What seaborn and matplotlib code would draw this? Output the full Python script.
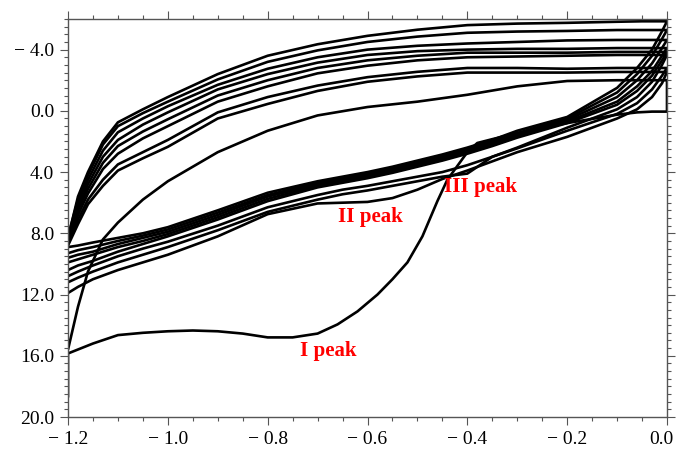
import numpy as np
import pandas as pd
import matplotlib
matplotlib.use("Agg")
import matplotlib.pyplot as plt
import seaborn as sns
from matplotlib.ticker import MultipleLocator, FixedLocator, FuncFormatter
from matplotlib.transforms import ScaledTranslation

# ---------------- data ----------------
# first forward scan (I peak)
x_f1 = [-1.2, -1.2, -1.15, -1.1, -1.05, -1.0, -0.95, -0.9, -0.85, -0.8, -0.75,
        -0.7, -0.66, -0.62, -0.58, -0.55, -0.52, -0.49, -0.46, -0.44, -0.42,
        -0.40, -0.38, -0.35, -0.3, -0.2, -0.1, -0.06, -0.03, 0.0]
y_f1 = [18.7, 15.85, 15.2, 14.65, 14.5, 14.4, 14.35, 14.4, 14.55, 14.8, 14.8,
        14.55, 13.95, 13.1, 12.0, 11.0, 9.9, 8.2, 5.9, 4.5, 3.6,
        2.7, 2.1, 1.85, 1.45, 0.8, 0.25, 0.1, 0.05, 0.05]

# reverse-scan potentials and first reverse scan
x_rev = [0.0, -0.02, -0.05, -0.1, -0.2, -0.3, -0.4, -0.5, -0.6, -0.7, -0.8,
         -0.9, -1.0, -1.05, -1.1, -1.13, -1.16, -1.18, -1.2]
y_r1 = [-2.0, -2.0, -2.0, -2.0, -1.95, -1.6, -1.05, -0.6, -0.25, 0.3, 1.3,
        2.7, 4.6, 5.8, 7.3, 8.4, 10.5, 12.8, 15.6]

# later forward scans
x_fwd = [-1.2, -1.18, -1.15, -1.1, -1.05, -1.0, -0.9, -0.8, -0.7, -0.65, -0.6,
         -0.55, -0.5, -0.45, -0.4, -0.35, -0.3, -0.2, -0.1, -0.06, -0.03, -0.01, 0.0]
y_f2 = [11.9, 11.5, 11.0, 10.4, 9.9, 9.4, 8.2, 6.75, 6.05, 6.0, 5.95,
        5.7, 5.15, 4.45, 3.9, 3.3, 2.7, 1.7, 0.5, -0.1, -0.9, -1.8, -2.54]
y_f3 = [11.2, 10.9, 10.5, 9.9, 9.4, 8.9, 7.8, 6.6, 5.8, 5.45, 5.2,
        4.9, 4.6, 4.3, 4.1, 3.0, 2.45, 1.3, 0.2, -0.5, -1.4, -2.3, -2.8]
y_f4 = [10.8, 10.5, 10.1, 9.5, 9.0, 8.55, 7.5, 6.3, 5.5, 5.15, 4.9,
        4.6, 4.3, 4.0, 3.55, 3.0, 2.4, 1.1, -0.1, -0.9, -1.9, -3.0, -3.65]
y_f5 = [10.4, 10.1, 9.8, 9.2, 8.7, 8.2, 7.1, 5.9, 5.0, 4.7, 4.4,
        4.05, 3.65, 3.25, 2.8, 2.3, 1.75, 0.8, -0.4, -1.3, -2.3, -3.3, -3.85]
y_f6 = [9.9, 9.7, 9.4, 8.9, 8.5, 8.05, 6.95, 5.75, 4.9, 4.6, 4.3,
        3.95, 3.55, 3.15, 2.7, 2.2, 1.65, 0.7, -0.6, -1.6, -2.6, -3.6, -4.1]
y_f7 = [9.6, 9.4, 9.2, 8.7, 8.3, 7.9, 6.8, 5.6, 4.8, 4.5, 4.2,
        3.85, 3.45, 3.05, 2.6, 2.1, 1.55, 0.6, -0.9, -2.0, -3.1, -4.1, -4.63]
y_f8 = [9.3, 9.1, 8.9, 8.5, 8.15, 7.75, 6.65, 5.5, 4.7, 4.4, 4.1,
        3.75, 3.35, 2.95, 2.5, 2.0, 1.45, 0.5, -1.2, -2.4, -3.6, -4.7, -5.28]
y_f9 = [8.9, 8.8, 8.6, 8.3, 8.0, 7.6, 6.5, 5.35, 4.6, 4.3, 4.0,
        3.65, 3.25, 2.85, 2.4, 1.9, 1.3, 0.4, -1.5, -2.8, -4.0, -5.2, -5.85]

# later reverse scans
y_r2 = [-2.54, -2.54, -2.54, -2.54, -2.5, -2.5, -2.5, -2.25, -1.9, -1.3, -0.45,
        0.5, 2.35, 3.1, 3.9, 4.9, 6.1, 7.4, 8.8]
y_r3 = [-2.8, -2.8, -2.8, -2.8, -2.75, -2.8, -2.8, -2.55, -2.2, -1.65, -0.9,
        0.1, 1.9, 2.7, 3.5, 4.5, 5.8, 7.1, 8.7]
y_r4 = [-3.65, -3.65, -3.65, -3.65, -3.6, -3.55, -3.5, -3.3, -2.95, -2.45, -1.6,
        -0.6, 1.0, 1.8, 2.8, 3.8, 5.4, 6.8, 8.6]
y_r5 = [-3.85, -3.85, -3.85, -3.85, -3.8, -3.8, -3.8, -3.6, -3.3, -2.8, -2.0,
        -1.0, 0.55, 1.35, 2.3, 3.4, 5.1, 6.5, 8.4]
y_r6 = [-4.1, -4.1, -4.1, -4.1, -4.05, -4.05, -4.0, -3.9, -3.65, -3.15, -2.4,
        -1.4, 0.1, 0.9, 1.9, 3.0, 4.8, 6.3, 8.5]
y_r7 = [-4.63, -4.63, -4.63, -4.63, -4.6, -4.5, -4.4, -4.25, -4.0, -3.5, -2.75,
        -1.7, -0.3, 0.5, 1.4, 2.6, 4.5, 6.0, 8.4]
y_r8 = [-5.28, -5.28, -5.28, -5.28, -5.22, -5.18, -5.1, -4.85, -4.5, -3.95, -3.2,
        -2.05, -0.6, 0.15, 1.0, 2.2, 4.2, 5.8, 8.2]
y_r9 = [-5.85, -5.85, -5.85, -5.82, -5.75, -5.7, -5.6, -5.3, -4.9, -4.35, -3.6,
        -2.4, -0.9, -0.1, 0.75, 2.0, 4.0, 5.6, 8.3]

x_ticks = [-1.2, -1.0, -0.8, -0.6, -0.4, -0.2, 0.0]
y_ticks = [-4.0, 0.0, 4.0, 8.0, 12.0, 16.0, 20.0]

peak_labels = ["I peak", "II peak", "III peak"]
peak_x = [-0.679, -0.595, -0.374]
peak_y = [15.7, 6.95, 4.95]

# ---------------- build table ----------------
cycles = [
    (x_f1, y_f1, x_rev, y_r1),
    (x_fwd, y_f2, x_rev, y_r2),
    (x_fwd, y_f3, x_rev, y_r3),
    (x_fwd, y_f4, x_rev, y_r4),
    (x_fwd, y_f5, x_rev, y_r5),
    (x_fwd, y_f6, x_rev, y_r6),
    (x_fwd, y_f7, x_rev, y_r7),
    (x_fwd, y_f8, x_rev, y_r8),
    (x_fwd, y_f9, x_rev, y_r9),
]
rows = []
for i, (xf, yf, xr, yr) in enumerate(cycles):
    k = 0
    for a, b in zip(list(xf) + list(xr), list(yf) + list(yr)):
        rows.append({"E": a, "I": b, "cycle": i, "order": k})
        k += 1
df = pd.DataFrame(rows)

# ---------------- plot ----------------
sns.set_theme(style="ticks")
plt.rcParams["font.family"] = ["Liberation Serif", "DejaVu Serif"]

fig = plt.figure(figsize=(6.76, 4.55), dpi=100)
ax = fig.add_axes([68 / 676, 1 - 417 / 455, (667 - 68) / 676, (417 - 19) / 455])

sns.lineplot(data=df, x="E", y="I", units="cycle", estimator=None, sort=False,
             color="black", linewidth=1.9, ax=ax)
for ln in ax.get_lines():
    ln.set_solid_joinstyle("round")
    ln.set_solid_capstyle("round")

ax.set_xlim(-1.2, 0.0)
ax.set_ylim(20, -6)
ax.set_xlabel("")
ax.set_ylabel("")


def fmt(v, pos=None):
    s = f"{abs(v):.1f}"
    if v < -1e-9:
        return "\u2212 " + s
    return s


ax.xaxis.set_major_locator(FixedLocator(x_ticks))
ax.xaxis.set_minor_locator(MultipleLocator(0.05))
ax.yaxis.set_major_locator(FixedLocator(y_ticks))
ax.yaxis.set_minor_locator(MultipleLocator(0.5))
ax.xaxis.set_major_formatter(FuncFormatter(fmt))
ax.yaxis.set_major_formatter(FuncFormatter(fmt))

for sp in ax.spines.values():
    sp.set_color("#555555")
    sp.set_linewidth(1.0)

ax.tick_params(which="both", direction="out", top=True, right=True,
               labeltop=False, labelright=False, color="#555555", width=0.8)
ax.tick_params(which="major", length=6, labelsize=14, pad=4, labelcolor="black")
ax.tick_params(which="minor", length=3)

fig.canvas.draw()
last = ax.get_xticklabels()[-1]
last.set_transform(last.get_transform() + ScaledTranslation(-6 / 100, 0, fig.dpi_scale_trans))

for lab, px, py in zip(peak_labels, peak_x, peak_y):
    ax.text(px, py, lab, color="#ff0000", fontweight="bold", fontsize=15,
            ha="center", va="center")

fig.savefig("out.png", dpi=100)
